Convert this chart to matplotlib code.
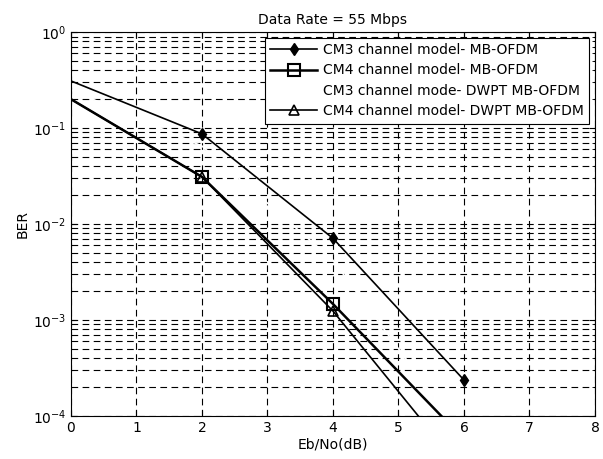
import numpy as np
import matplotlib
matplotlib.use("Agg")
import matplotlib.pyplot as plt

# Eb/No points (dB)
ebno = [0, 2, 4, 6]

# BER values
ber_cm3_mb = [0.31, 0.087, 7.1e-3, 2.37e-4]
ber_cm4_mb = [0.20, 0.031, 1.47e-3, 5.7e-5]
ber_cm3_dwpt = [0.25, 0.065, 4.2e-3, 6.0e-5]   # drawn in white in the original
ber_cm4_dwpt = [0.20, 0.031, 1.24e-3, 2.6e-5]

labels = ["CM3 channel model- MB-OFDM",
          "CM4 channel model- MB-OFDM",
          "CM3 channel mode- DWPT MB-OFDM",
          "CM4 channel model- DWPT MB-OFDM"]

plt.rcParams['font.family'] = ['DejaVu Sans']

fig = plt.figure(figsize=(6.03, 4.59), dpi=100)
ax = fig.add_axes([0.1177, 0.0937, 0.8690, 0.8363])

# no marker at 0 dB, like the reference
mk = [1, 2, 3]
ax.semilogy(ebno, ber_cm3_mb, color='black', lw=1.2, marker='d',
            ms=6, mfc='black', markevery=mk, label=labels[0])
ax.semilogy(ebno, ber_cm4_mb, color='black', lw=1.8, marker='s',
            ms=8, mfc='none', mew=1.5, markevery=mk, label=labels[1])
ax.semilogy(ebno, ber_cm3_dwpt, color='white', lw=1.2, label=labels[2])
ax.semilogy(ebno, ber_cm4_dwpt, color='black', lw=1.2, marker='^',
            ms=7, mfc='none', mew=1.2, markevery=mk, label=labels[3])

ax.set_xlim(0, 8)
ax.set_ylim(1e-4, 1)
ax.set_xticks(range(0, 9))

# dashed grid like the matlab dotted grid in the picture
ax.grid(True, which='major', color='black', ls=(0, (6, 4)), lw=0.8)
ax.grid(True, which='minor', axis='y', color='black', ls=(0, (6, 4)), lw=0.8)

ax.tick_params(which='both', direction='in', top=True, right=True,
               labelsize=10)
ax.tick_params(which='major', length=4)
ax.tick_params(which='minor', length=2)

ax.set_title("Data Rate = 55 Mbps", fontsize=10, pad=6)
ax.set_xlabel("Eb/No(dB)", fontsize=10, labelpad=2)
ax.set_ylabel("BER", fontsize=10, labelpad=2)

leg = ax.legend(loc='upper right', fontsize=10, fancybox=False,
                framealpha=1, edgecolor='black', handlelength=3.4,
                borderaxespad=0.4, labelspacing=0.45, handletextpad=0.4)
leg.get_frame().set_linewidth(0.8)

fig.savefig("out.png", dpi=100)
